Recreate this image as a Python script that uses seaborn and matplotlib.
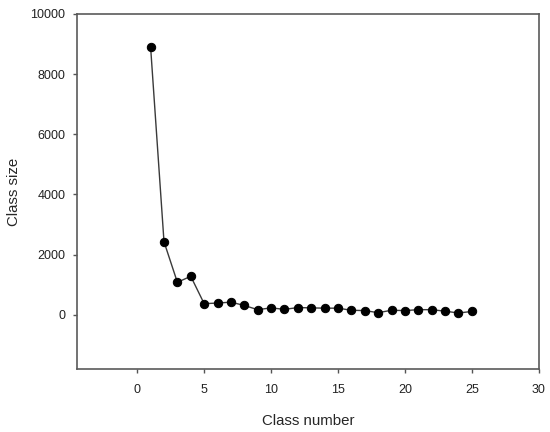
import numpy as np
import pandas as pd
import matplotlib
matplotlib.use('Agg')
import matplotlib.pyplot as plt
import seaborn as sns

# ── Data ──────────────────────────────────────────────────────────
class_number = list(range(1, 26))
class_size = [8900, 2430, 1080, 1280, 370, 390, 420, 310, 170, 230,
              180, 240, 230, 220, 220, 150, 140, 70, 150, 140,
              170, 170, 120, 60, 110]
x_ticks = [0, 5, 10, 15, 20, 25, 30]
y_ticks = [0, 2000, 4000, 6000, 8000, 10000]

df = pd.DataFrame({'Class number': class_number, 'Class size': class_size})

sns.set_style('ticks')
plt.rcParams['font.family'] = ['Liberation Sans', 'DejaVu Sans']

fig = plt.figure(figsize=(5.5, 4.32), dpi=100)
ax = fig.add_axes([0.14, 0.146, 0.8395, 0.8216])

sns.lineplot(data=df, x='Class number', y='Class size', ax=ax,
             color='#3a3a3a', linewidth=1.0, marker='o', markersize=6,
             markerfacecolor='black', markeredgecolor='black')

ax.set_xlim(-4.5, 30)
ax.set_ylim(-1800, 10000)
ax.set_xticks(x_ticks)
ax.set_yticks(y_ticks)
ax.tick_params(axis='both', labelsize=9, length=3, width=1,
               color='#555555', labelcolor='#222222')
ax.tick_params(axis='x', pad=8)
ax.tick_params(axis='y', pad=5.5)
for s in ax.spines.values():
    s.set_color('#5a5a5a')
    s.set_linewidth(1.2)
    s.set_visible(True)

ax.set_xlabel('Class number', fontsize=10.8, labelpad=13)
ax.set_ylabel('Class size', fontsize=10.8, labelpad=6.5)

fig.savefig('out.png', dpi=100)
